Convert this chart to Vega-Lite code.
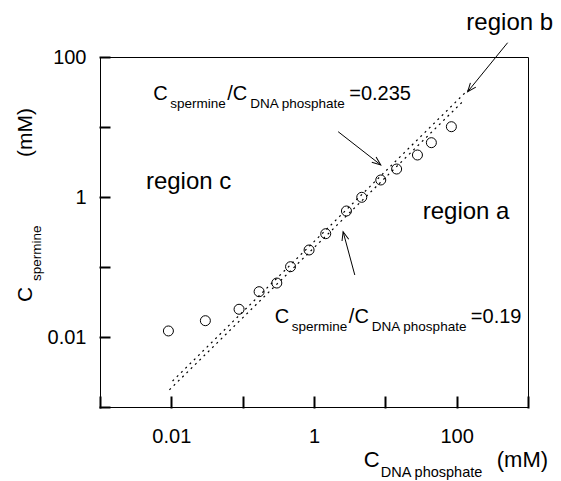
{
  "$schema": "https://vega.github.io/schema/vega-lite/v6.json",
  "width": 428,
  "height": 350,
  "autosize": {"type": "none"},
  "padding": {"left": 100, "top": 57, "right": 33, "bottom": 74},
  "background": "white",
  "config": {
    "view": {"stroke": "black", "strokeWidth": 1},
    "font": "Liberation Sans",
    "text": {"font": "Liberation Sans", "color": "black"},
    "axis": {"ticks": true, "tickColor": "black", "tickWidth": 2, "tickOpacity": 1, "tickCap": "square"}
  },
  "datasets": {
    "points": [
      {"x": 0.0091, "y": 0.0122}, {"x": 0.030, "y": 0.0171}, {"x": 0.089, "y": 0.0249},
      {"x": 0.170, "y": 0.0444}, {"x": 0.301, "y": 0.059}, {"x": 0.469, "y": 0.101},
      {"x": 0.853, "y": 0.175}, {"x": 1.46, "y": 0.299}, {"x": 2.85, "y": 0.631},
      {"x": 4.67, "y": 0.99}, {"x": 8.63, "y": 1.75}, {"x": 14.4, "y": 2.51},
      {"x": 28.2, "y": 3.98}, {"x": 44.2, "y": 5.97}, {"x": 84.3, "y": 10.1}
    ],
    "lines": [
      {"x": 0.0094, "y": 0.00176, "ratio": "0.19"}, {"x": 118, "y": 22.4, "ratio": "0.19"},
      {"x": 0.0104, "y": 0.00235, "ratio": "0.235"}, {"x": 143, "y": 33.6, "ratio": "0.235"}
    ],
    "arrows": [
      {"id": "b", "x": 518, "y": 160, "x2": 142.6, "y2": 31.9},
      {"id": "u", "x": 2.18, "y": 8.57, "x2": 8.63, "y2": 2.87},
      {"id": "l", "x": 3.73, "y": 0.0769, "x2": 2.56, "y2": 0.319}
    ],
    "regions": [
      {"x": 0.0044, "y": 1.30, "label": "region c"},
      {"x": 33.4, "y": 0.485, "label": "region a"},
      {"x": 136.8, "y": 243, "label": "region b"}
    ],
    "ratios": [
      {"x": 0.00558, "y": 24.3, "eq": "=0.235"},
      {"x": 0.2825, "y": 0.0157, "eq": "=0.19"}
    ],
    "xtitle": [{"x": 4.98, "y": 0.00014}],
    "ytitle": [{"x": 0.0001116, "y": 0.0316}]
  },
  "encoding": {
    "x": {
      "field": "x", "type": "quantitative",
      "scale": {"type": "log", "domain": [0.001, 1000], "nice": false},
      "axis": {
        "title": null, "grid": false, "domain": false, "offset": -10,
        "values": [0.001, 0.01, 0.1, 1, 10, 100, 1000],
        "labelExpr": "datum.value == 0.01 ? '0.01' : datum.value == 1 ? '1' : datum.value == 100 ? '100' : ''",
        "tickSize": 10, "labelPadding": 19, "labelFontSize": 20, "labelFont": "Liberation Sans",
        "labelColor": "black",
        "labelOverlap": false, "labelFlush": false
      }
    },
    "y": {
      "field": "y", "type": "quantitative",
      "scale": {"type": "log", "domain": [0.001, 100], "nice": false},
      "axis": {
        "title": null, "grid": false, "domain": false, "offset": -9,
        "values": [0.001, 0.01, 0.1, 1, 10, 100],
        "labelExpr": "datum.value == 0.01 ? '0.01' : datum.value == 1 ? '1' : datum.value == 100 ? '100' : ''",
        "tickSize": 9, "labelPadding": 14, "labelFontSize": 20, "labelFont": "Liberation Sans",
        "labelColor": "black",
        "labelOverlap": false, "labelFlush": false
      }
    }
  },
  "layer": [
    {
      "data": {"name": "lines"},
      "mark": {"type": "line", "stroke": "black", "strokeWidth": 1.2, "strokeDash": [2, 4]},
      "encoding": {"detail": {"field": "ratio"}}
    },
    {
      "data": {"name": "points"},
      "mark": {"type": "point", "shape": "circle", "size": 100, "filled": false, "stroke": "black", "strokeWidth": 1, "opacity": 1}
    },
    {
      "data": {"name": "arrows"},
      "mark": {"type": "rule", "stroke": "black", "strokeWidth": 1},
      "encoding": {"x2": {"field": "x2"}, "y2": {"field": "y2"}}
    },
    {
      "data": {"name": "arrows"},
      "transform": [{"filter": "datum.id == 'b'"}],
      "mark": {"type": "point", "shape": "M -0.4 1 L 0 0 L 0.4 1", "size": 300, "filled": false, "stroke": "black", "strokeWidth": 1, "opacity": 1, "angle": 219},
      "encoding": {"x": {"field": "x2", "type": "quantitative"}, "y": {"field": "y2", "type": "quantitative"}}
    },
    {
      "data": {"name": "arrows"},
      "transform": [{"filter": "datum.id == 'u'"}],
      "mark": {"type": "point", "shape": "M -0.4 1 L 0 0 L 0.4 1", "size": 300, "filled": false, "stroke": "black", "strokeWidth": 1, "opacity": 1, "angle": 128},
      "encoding": {"x": {"field": "x2", "type": "quantitative"}, "y": {"field": "y2", "type": "quantitative"}}
    },
    {
      "data": {"name": "arrows"},
      "transform": [{"filter": "datum.id == 'l'"}],
      "mark": {"type": "point", "shape": "M -0.4 1 L 0 0 L 0.4 1", "size": 300, "filled": false, "stroke": "black", "strokeWidth": 1, "opacity": 1, "angle": 345},
      "encoding": {"x": {"field": "x2", "type": "quantitative"}, "y": {"field": "y2", "type": "quantitative"}}
    },
    {
      "data": {"name": "regions"},
      "mark": {"type": "text", "fontSize": 24, "align": "left", "baseline": "alphabetic"},
      "encoding": {"text": {"field": "label"}}
    },
    {
      "data": {"name": "ratios"},
      "mark": {"type": "text", "text": "C", "fontSize": 20, "align": "left", "baseline": "alphabetic"}
    },
    {
      "data": {"name": "ratios"},
      "mark": {"type": "text", "text": "spermine", "fontSize": 13.5, "align": "left", "baseline": "alphabetic", "dx": 17, "dy": 8}
    },
    {
      "data": {"name": "ratios"},
      "mark": {"type": "text", "text": "/C", "fontSize": 20, "align": "left", "baseline": "alphabetic", "dx": 74}
    },
    {
      "data": {"name": "ratios"},
      "mark": {"type": "text", "text": "DNA phosphate", "fontSize": 13.5, "align": "left", "baseline": "alphabetic", "dx": 97, "dy": 8}
    },
    {
      "data": {"name": "ratios"},
      "mark": {"type": "text", "fontSize": 20, "align": "left", "baseline": "alphabetic", "dx": 196},
      "encoding": {"text": {"field": "eq"}}
    },
    {
      "data": {"name": "xtitle"},
      "mark": {"type": "text", "text": "C", "fontSize": 22, "align": "left", "baseline": "alphabetic"}
    },
    {
      "data": {"name": "xtitle"},
      "mark": {"type": "text", "text": "DNA phosphate", "fontSize": 14.5, "align": "left", "baseline": "alphabetic", "dx": 17, "dy": 10}
    },
    {
      "data": {"name": "xtitle"},
      "mark": {"type": "text", "text": "(mM)", "fontSize": 22, "align": "left", "baseline": "alphabetic", "dx": 133}
    },
    {
      "data": {"name": "ytitle"},
      "mark": {"type": "text", "text": "C", "fontSize": 21, "align": "left", "baseline": "alphabetic", "angle": 270}
    },
    {
      "data": {"name": "ytitle"},
      "mark": {"type": "text", "text": "spermine", "fontSize": 13.5, "align": "left", "baseline": "alphabetic", "angle": 270, "dx": 21, "dy": 9}
    },
    {
      "data": {"name": "ytitle"},
      "mark": {"type": "text", "text": "(mM)", "fontSize": 21, "align": "left", "baseline": "alphabetic", "angle": 270, "dx": 145}
    }
  ]
}
